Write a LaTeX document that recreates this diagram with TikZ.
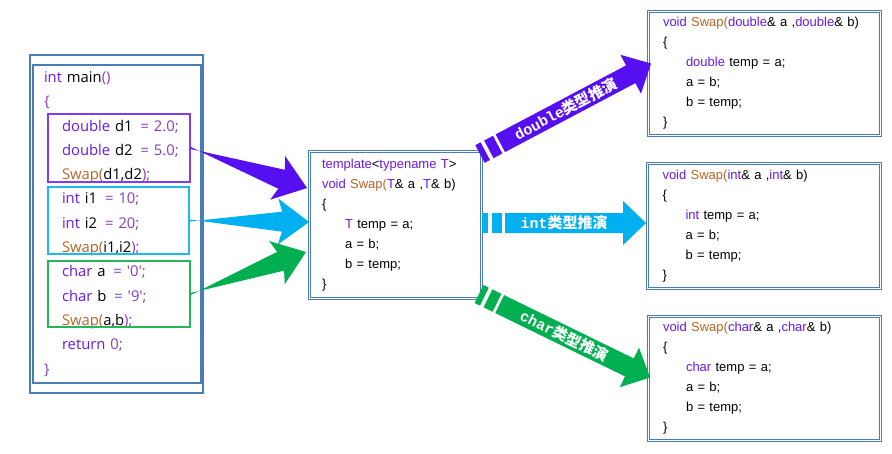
\documentclass[tikz,border=0pt]{standalone}
\usepackage{fontspec}
\setmainfont{Liberation Sans}
\newfontfamily\uifont{Open Sans}
\newfontfamily\cjk{Noto Sans CJK SC}
\newfontfamily\labelmono{Liberation Mono}
\usetikzlibrary{calc}

\definecolor{frameblue}{RGB}{75,125,180}
\definecolor{kwcol}{RGB}{105,25,230}
\definecolor{pucol}{RGB}{135,60,185}
\definecolor{fncol}{RGB}{185,100,40}
\definecolor{arrviolet}{RGB}{85,15,240}
\definecolor{arrcyan}{RGB}{0,176,240}
\definecolor{arrgreen}{RGB}{0,176,80}
\definecolor{grpviolet}{RGB}{128,60,240}
\definecolor{grpcyan}{RGB}{30,185,240}
\definecolor{grpgreen}{RGB}{40,180,90}

\newcommand{\ckw}[1]{\textcolor{kwcol}{#1}}
\newcommand{\cpu}[1]{\textcolor{pucol}{#1}}
\newcommand{\cfn}[1]{\textcolor{fncol}{#1}}

% tapered arrow: tail, tip, colour
\newcommand{\wedgearrow}[3]{%
  \fill[#3] ($(#1)!1pt!90:(#2)$) -- ($(#2)!27pt!(#1)!10pt!90:(#1)$) -- ($(#2)!31pt!(#1)!23pt!90:(#1)$) -- (#2)
    -- ($(#2)!31pt!(#1)!23pt!-90:(#1)$) -- ($(#2)!27pt!(#1)!10pt!-90:(#1)$) -- ($(#1)!1pt!-90:(#2)$) -- cycle;}

% striped block arrow: tail, tip, colour, label
\newcommand{\deducearrow}[4]{%
  \fill[#3] ($(#1)!10pt!90:(#2)$) -- ($(#1)!6pt!(#2)!10pt!90:(#2)$)
    -- ($(#1)!6pt!(#2)!10pt!-90:(#2)$) -- ($(#1)!10pt!-90:(#2)$) -- cycle;
  \fill[#3] ($(#1)!10pt!(#2)!10pt!90:(#2)$) -- ($(#1)!20pt!(#2)!10pt!90:(#2)$)
    -- ($(#1)!20pt!(#2)!10pt!-90:(#2)$) -- ($(#1)!10pt!(#2)!10pt!-90:(#2)$) -- cycle;
  \fill[#3] ($(#1)!23pt!(#2)!10pt!90:(#2)$) -- ($(#2)!23pt!(#1)!10pt!-90:(#1)$)
    -- ($(#2)!23pt!(#1)!22pt!-90:(#1)$) -- (#2) -- ($(#2)!23pt!(#1)!22pt!90:(#1)$)
    -- ($(#2)!23pt!(#1)!10pt!90:(#1)$) -- ($(#1)!23pt!(#2)!10pt!-90:(#2)$) -- cycle;
  \path ($(#1)!23pt!(#2)$) -- ($(#2)!23pt!(#1)$)
    node[midway, sloped, lbl] {#4};}

\begin{document}
\begin{tikzpicture}[x=1pt, y=-1pt,
  codebox/.style={rectangle, draw=frameblue, line width=0.9pt, double=white,
                  double distance=1.4pt, align=left, inner sep=0pt,
                  font=\fontsize{13}{20}\selectfont},
  mainbox/.style={rectangle, draw=frameblue, line width=1.3pt, align=left, inner sep=0pt},
  grp/.style={rectangle, line width=1.2pt, inner sep=0pt},
  lbl/.style={text=white, inner sep=0pt, font=\bfseries\fontsize{15}{15}\selectfont}]

  \useasboundingbox (0,0) rectangle (892,453);

  % main()
  \node[mainbox, minimum width=173pt, minimum height=338pt] at (116.5,224) (mainout) {};
  \node[mainbox, minimum width=168pt, minimum height=318pt, text width=146pt,
        font=\uifont\fontsize{14.8}{24.3}\selectfont] at (117,224) (main)
    {\ckw{int} main\cpu{()}\\
     \cpu{\{}\\
     \hspace*{18pt}\ckw{double} d1\hspace{3pt} \cpu{= 2.0;}\\
     \hspace*{18pt}\ckw{double} d2\hspace{3pt} \cpu{= 5.0;}\\
     \hspace*{18pt}\cfn{Swap(}d1,d2\cpu{);}\\
     \hspace*{18pt}\ckw{int} i1\hspace{3pt} \cpu{= 10;}\\
     \hspace*{18pt}\ckw{int} i2\hspace{3pt} \cpu{= 20;}\\
     \hspace*{18pt}\cfn{Swap(}i1,i2\cpu{);}\\
     \hspace*{18pt}\ckw{char} a\hspace{3pt} \cpu{= \textquotesingle0\textquotesingle;}\\
     \hspace*{18pt}\ckw{char} b\hspace{3pt} \cpu{= \textquotesingle9\textquotesingle;}\\
     \hspace*{18pt}\cfn{Swap(}a,b\cpu{);}\\
     \hspace*{18pt}\ckw{return} \cpu{0;}\\
     \cpu{\}}};

  \node[grp, draw=grpviolet, minimum width=142pt, minimum height=68pt] at (119,148) (dgrp) {};
  \node[grp, draw=grpcyan, minimum width=141pt, minimum height=67pt] at (118.5,220.5) (igrp) {};
  \node[grp, draw=grpgreen, minimum width=142pt, minimum height=66pt] at (119,294) (cgrp) {};

  % template
  \node[codebox, minimum width=172pt, minimum height=147pt, text width=147pt] at (395.5,225) (tmpl)
    {\ckw{template}<\ckw{typename T}>\\
     \ckw{void} \cfn{Swap(}\ckw{T}\& a ,\ckw{T}\& b)\\
     \{\\
     \hspace*{23pt}\ckw{T} temp = a;\\
     \hspace*{23pt}a = b;\\
     \hspace*{23pt}b = temp;\\
     \}};

  % instances
  \node[codebox, minimum width=232pt, minimum height=124pt, text width=203pt] at (764.5,73.5) (dbl)
    {\ckw{void} \cfn{Swap(}\ckw{double}\& a ,\ckw{double}\& b)\\
     \{\\
     \hspace*{23pt}\ckw{double} temp = a;\\
     \hspace*{23pt}a = b;\\
     \hspace*{23pt}b = temp;\\
     \}};
  \node[codebox, minimum width=233pt, minimum height=125pt, text width=203pt] at (764,226) (intb)
    {\ckw{void} \cfn{Swap(}\ckw{int}\& a ,\ckw{int}\& b)\\
     \{\\
     \hspace*{23pt}\ckw{int} temp = a;\\
     \hspace*{23pt}a = b;\\
     \hspace*{23pt}b = temp;\\
     \}};
  \node[codebox, minimum width=232pt, minimum height=124pt, text width=203pt] at (764.5,378.5) (chb)
    {\ckw{void} \cfn{Swap(}\ckw{char}\& a ,\ckw{char}\& b)\\
     \{\\
     \hspace*{23pt}\ckw{char} temp = a;\\
     \hspace*{23pt}a = b;\\
     \hspace*{23pt}b = temp;\\
     \}};

  % calls -> template
  \coordinate (dtip) at ($(tmpl.west)+(-2,-37)$);
  \coordinate (itip) at ($(tmpl.west)+(0,-3)$);
  \coordinate (ctip) at ($(tmpl.west)+(-3,27)$);
  \wedgearrow{dgrp.east}{dtip}{arrviolet}
  \wedgearrow{igrp.east}{itip}{arrcyan}
  \wedgearrow{cgrp.east}{ctip}{arrgreen}

  % template -> instances
  \coordinate (dtail) at (480,154);
  \coordinate (itail) at (482,223);
  \coordinate (ctail) at (479,294);
  \coordinate (dhead) at ($(dbl.west)+(3,-10)$);
  \coordinate (ihead) at ($(intb.west)+(-1,-3)$);
  \coordinate (chead) at ($(chb.west)+(2,-1)$);
  \deducearrow{dtail}{dhead}{arrviolet}{{\labelmono double}{\cjk 类型推演}}
  \deducearrow{itail}{ihead}{arrcyan}{{\labelmono int}{\cjk 类型推演}}
  \deducearrow{ctail}{chead}{arrgreen}{{\labelmono char}{\cjk 类型推演}}

\end{tikzpicture}
\end{document}
